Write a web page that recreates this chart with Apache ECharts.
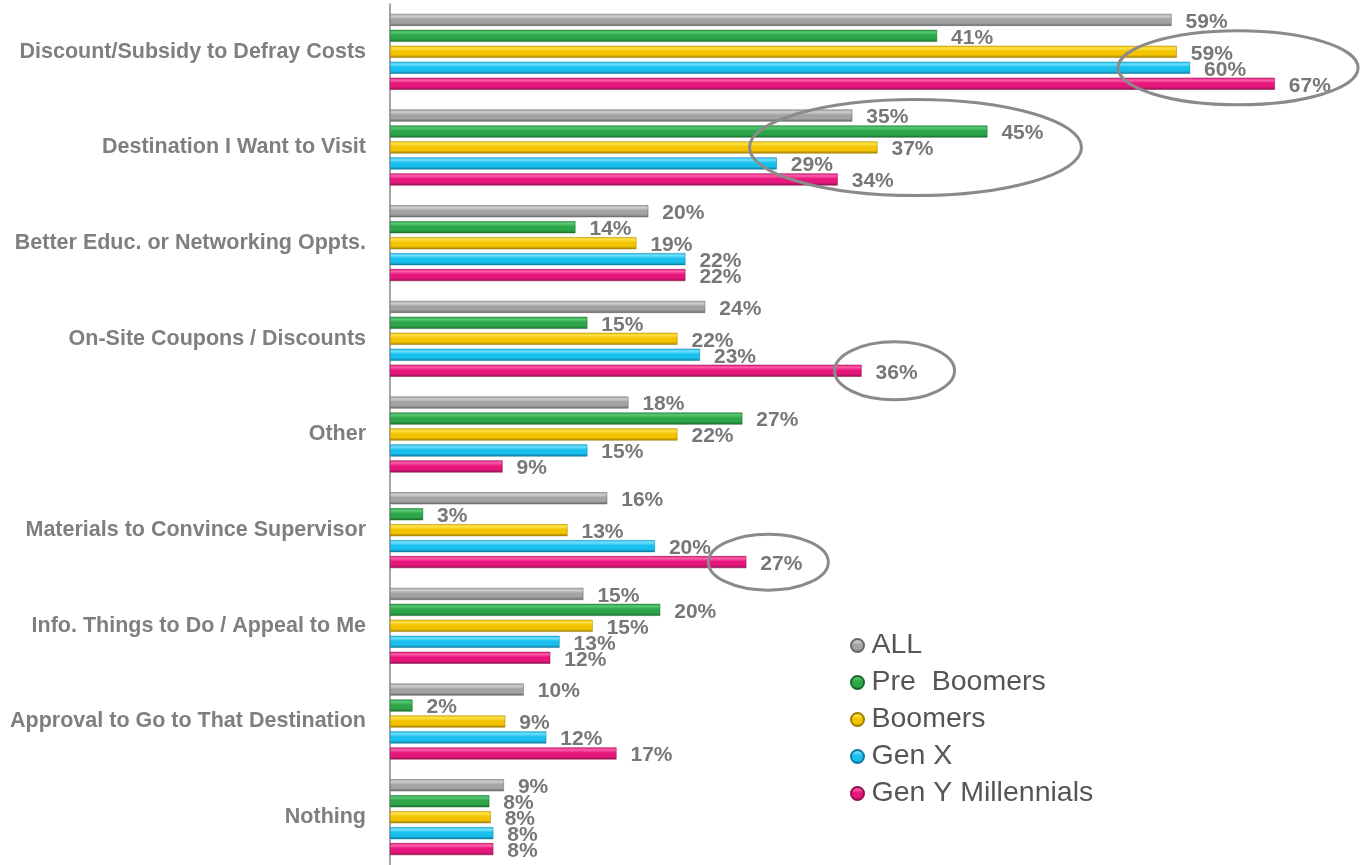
<!DOCTYPE html>
<html>
<head>
<meta charset="utf-8">
<title>Survey chart</title>
<script src="https://cdn.jsdelivr.net/npm/echarts@6/dist/echarts.min.js"></script>
<style>
  html, body { margin: 0; padding: 0; background: #fff; }
  #chart { width: 1364px; height: 865px; }
</style>
</head>
<body>
<div id="chart"></div>
<script>
// categories, top to bottom
var categories = [
  'Discount/Subsidy to Defray Costs',
  'Destination I Want to Visit',
  'Better Educ. or Networking Oppts.',
  'On-Site Coupons / Discounts',
  'Other',
  'Materials to Convince Supervisor',
  'Info. Things to Do / Appeal to Me',
  'Approval to Go to That Destination',
  'Nothing'
]

// values (percent)
var allValues = [59.0, 34.9, 19.5, 23.8, 18.0, 16.4, 14.6, 10.1, 8.6]
var preBoomers = [41.3, 45.1, 14.0, 14.9, 26.6, 2.5, 20.4, 1.7, 7.5]
var boomers = [59.4, 36.8, 18.6, 21.7, 21.7, 13.4, 15.3, 8.7, 7.6]
var genX = [60.4, 29.2, 22.3, 23.4, 14.9, 20.0, 12.8, 11.8, 7.8]
var genY = [66.8, 33.8, 22.3, 35.6, 8.5, 26.9, 12.1, 17.1, 7.8]

var seriesNames = ['ALL', 'Pre  Boomers', 'Boomers', 'Gen X', 'Gen Y Millennials']

// [highlight, middle, shadow] shades for the bevel look
var shades = [
  ['#cfcfcf', '#a3a3a3', '#666666'],
  ['#58c872', '#2ca648', '#1b6a2e'],
  ['#ffe14a', '#f3c300', '#a07e00'],
  ['#6fe0ff', '#19c0ee', '#0e7aa0'],
  ['#ff5fa8', '#e6167c', '#8f0f4c']
]

// annotation rings: [category index, series index, rx, ry, dx]
var rings = [
  [0, 3, 120, 37, 48],
  [1, 2, 166, 48, 38],
  [3, 4, 60, 29, 33],
  [5, 4, 60, 28, 22]
]

var barWidth = 12
var barPitch = 16

function bevel (c) {
  return new echarts.graphic.LinearGradient(0, 0, 0, 1, [
    { offset: 0, color: c[1] },
    { offset: 0.2, color: c[0] },
    { offset: 0.45, color: c[1] },
    { offset: 0.75, color: c[1] },
    { offset: 1, color: c[2] }
  ])
}

var chart = echarts.init(document.getElementById('chart'))
var data = [allValues, preBoomers, boomers, genX, genY]

var series = data.map(function (vals, i) {
  return {
    name: seriesNames[i],
    type: 'bar',
    data: vals,
    barWidth: barWidth,
    barGap: '33%',
    itemStyle: {
      color: bevel(shades[i]),
      borderColor: shades[i][2],
      borderWidth: 0.5
    },
    label: {
      show: true,
      position: 'right',
      distance: 14,
      offset: [0, 2],
      color: '#777',
      fontSize: 21,
      fontWeight: 'bold',
      fontFamily: 'Liberation Sans, Arial, sans-serif',
      formatter: function (p) {
        return Math.round(p.value) + '%'
      }
    }
  }
})

chart.setOption({
  animation: false,
  grid: {
    left: 390,
    top: 4,
    height: 866,
    width: 967
  },
  legend: {
    orient: 'vertical',
    left: 845,
    top: 626,
    itemGap: 8,
    itemWidth: 18,
    itemHeight: 13,
    icon: 'circle',
    data: seriesNames,
    textStyle: {
      color: '#555',
      fontSize: 28.5,
      fontFamily: 'Liberation Sans, Arial, sans-serif'
    }
  },
  xAxis: {
    type: 'value',
    min: 0,
    max: 73,
    show: false,
    splitLine: { show: false }
  },
  yAxis: {
    type: 'category',
    inverse: true,
    data: categories,
    axisTick: { show: false },
    axisLine: { lineStyle: { color: '#888', width: 1.5 } },
    axisLabel: {
      color: '#7f7f7f',
      fontSize: 21.5,
      fontWeight: 'bold',
      margin: 24,
      fontFamily: 'Liberation Sans, Arial, sans-serif'
    }
  },
  series: series
})

// rings around highlighted values, placed from the bar scale
var graphics = rings.map(function (r) {
  var vals = data[r[1]]
  var pt = chart.convertToPixel({ seriesIndex: r[1] }, [vals[r[0]], r[0]])
  var cy = pt[1] + (r[1] - 2) * barPitch
  return {
    type: 'ellipse',
    shape: { cx: pt[0] + r[4], cy: cy, rx: r[2], ry: r[3] },
    style: { fill: 'none', stroke: '#8a8a8a', lineWidth: 3 },
    z: 10
  }
})
chart.setOption({ graphic: graphics })
</script>
</body>
</html>
